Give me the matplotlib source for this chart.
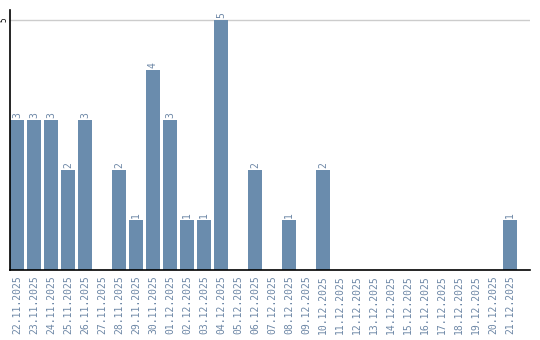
import matplotlib
matplotlib.use("Agg")
import matplotlib.pyplot as plt

dates = [
    "22.11.2025", "23.11.2025", "24.11.2025", "25.11.2025", "26.11.2025",
    "27.11.2025", "28.11.2025", "29.11.2025", "30.11.2025", "01.12.2025",
    "02.12.2025", "03.12.2025", "04.12.2025", "05.12.2025", "06.12.2025",
    "07.12.2025", "08.12.2025", "09.12.2025", "10.12.2025", "11.12.2025",
    "12.12.2025", "13.12.2025", "14.12.2025", "15.12.2025", "16.12.2025",
    "17.12.2025", "18.12.2025", "19.12.2025", "20.12.2025", "21.12.2025",
]
counts = [3, 3, 3, 2, 3, 0, 2, 1, 4, 3, 1, 1, 5, 0, 2, 0, 1, 0, 2, 0,
          0, 0, 0, 0, 0, 0, 0, 0, 0, 1]

bar_color = "#6a8cad"
label_color = "#6d87a6"

fig = plt.figure(figsize=(5.4, 3.4), dpi=100)
ax = fig.add_axes([10 / 540, 70 / 340, 520 / 540, 260 / 340])

x = list(range(len(dates)))
ax.bar(x, counts, width=0.82, color=bar_color, zorder=2)
for xi, c in zip(x, counts):
    if c > 0:
        ax.text(xi, c + 0.05, str(c), rotation=90, ha="center", va="bottom",
                fontsize=7, color=label_color, family="DejaVu Sans Mono")

ax.set_xlim(-0.41, 30.18)
ax.set_ylim(0, 5.2)
ax.set_yticks([5])
ax.set_yticklabels(["5"], rotation=90, va="center", fontsize=5.5,
                   family="DejaVu Sans Mono")
ax.tick_params(axis="y", length=0, pad=1)
ax.yaxis.grid(True, color="#cccccc", linewidth=1, zorder=0)
ax.set_xticks(x)
ax.set_xticklabels(dates, rotation=90, fontsize=7, color=label_color,
                   family="DejaVu Sans Mono")
ax.tick_params(axis="x", length=0, pad=4)

for s in ["top", "right"]:
    ax.spines[s].set_visible(False)
ax.spines["left"].set_linewidth(1.2)
ax.spines["bottom"].set_linewidth(1.2)

fig.savefig("out.png", dpi=100)
